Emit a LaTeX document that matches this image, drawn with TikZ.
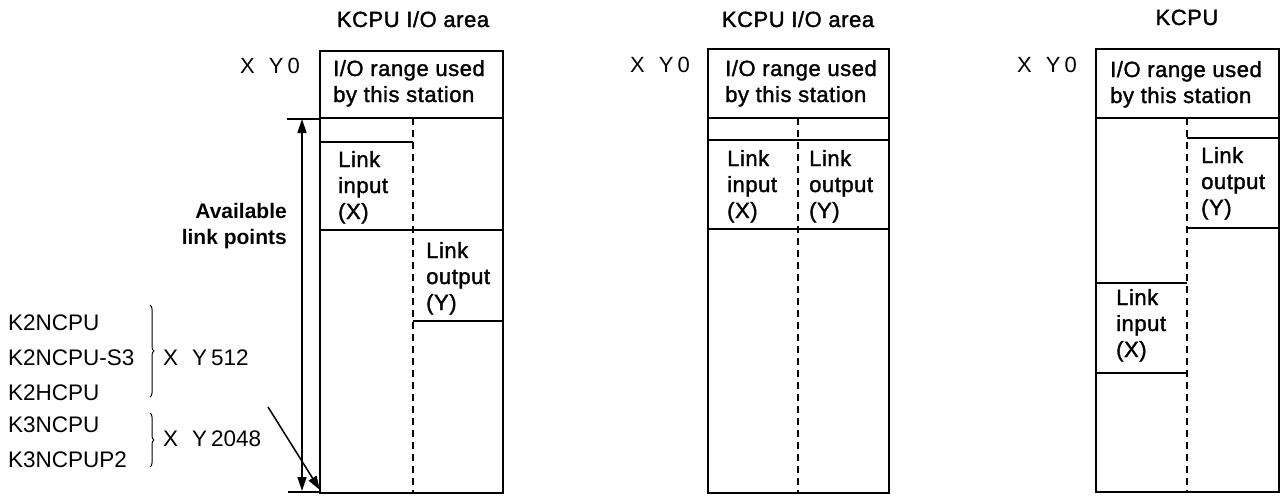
\documentclass[tikz,border=0pt]{standalone}
\usepackage{fontspec}
\setmainfont{Liberation Sans}
\newfontfamily\labelfont[FakeBold=1.5,LetterSpace=2.5]{Liberation Sans}
\usetikzlibrary{arrows.meta,decorations.pathreplacing}

\begin{document}
\begin{tikzpicture}[x=1pt,y=-1pt,
  >={Triangle[length=14pt,width=9pt]},
  frame/.style={line width=2.2pt},
  divider/.style={line width=1.8pt},
  split/.style={line width=1.3pt, dash pattern=on 7pt off 5pt},
  % multi-line labels: the anchor sits on the baseline of the last line
  lbl/.style={inner sep=0pt, anchor=base west, align=left, font=\labelfont\fontsize{22}{26}\selectfont},
  heading/.style={inner sep=0pt, anchor=base, font=\labelfont\fontsize{22}{26}\selectfont},
  addr/.style={inner sep=0pt, anchor=base east, font=\fontsize{22}{26}\selectfont},
  cpu/.style={inner sep=0pt, anchor=base west, font=\fontsize{22.5}{26}\selectfont},
  bracket/.style={line width=1pt, decorate, decoration={brace, amplitude=4pt}},
]
\useasboundingbox (0,0) rectangle (1281,496);

% ---------- left column: I/O area with link input before link output ----------
\draw[frame] (320,51) rectangle (503,493);
\draw[divider] (320,118) -- (503,118);
\draw[split] (413,118) -- (413,493);
\draw[divider] (320,142) -- (413,142);
\draw[divider] (320,230) -- (503,230);
\draw[divider] (413,321) -- (503,321);

\node[heading] (t1) at (413,27) {KCPU I/O area};
\node[addr] (a1) at (300,73) {X\hspace{14pt}Y\hspace{4pt}0};
\node[lbl] (h1) at (333,102) {I/O range used\\by this station};
\node[lbl] (in1) at (338,219) {Link\\input\\(X)};
\node[lbl] (out1) at (426,310) {Link\\output\\(Y)};

% span of available link points
\coordinate (spanTop) at (302,119);
\coordinate (spanBot) at (302,491);
\draw[line width=1.8pt] (287,119) -- (320,119);
\draw[line width=1.8pt] (288,492) -- (320,492);
\draw[line width=1.5pt, <->] (spanTop) -- (spanBot);
\node[inner sep=0pt, anchor=base east, align=right, font=\fontsize{21}{26}\selectfont\bfseries]
  (avail) at (287,244) {Available\\link points};

% CPU types and their last address
\node[cpu] (k2n)   at (8,330) {K2NCPU};
\node[cpu] (k2ns3) at (8,365) {K2NCPU-S3};
\node[cpu] (k2h)   at (8,400) {K2HCPU};
\node[cpu] (k3n)   at (8,432) {K3NCPU};
\node[cpu] (k3np2) at (8,467) {K3NCPUP2};
\draw[bracket] (150,305) -- (150,397);
\draw[bracket] (150,413) -- (150,467);
\node[cpu] (end512)  at (163,365) {X\hspace{14pt}Y\hspace{4pt}512};
\node[cpu] (end2048) at (163,446) {X\hspace{14pt}Y\hspace{4pt}2048};
\coordinate (ptrStart) at (268,407);
\coordinate (ptrEnd) at (320,490);
\draw[line width=1.5pt, ->] (ptrStart) -- (ptrEnd);

% ---------- middle column: link input beside link output ----------
\draw[frame] (708,49) rectangle (889,493);
\draw[divider] (708,118) -- (889,118);
\draw[divider] (708,140) -- (889,140);
\draw[divider] (708,229) -- (889,229);
\draw[split] (798,118) -- (798,493);

\node[heading] (t2) at (798,27) {KCPU I/O area};
\node[addr] (a2) at (690,72) {X\hspace{14pt}Y\hspace{4pt}0};
\node[lbl] (h2) at (725,102) {I/O range used\\by this station};
\node[lbl] (in2) at (727,218) {Link\\input\\(X)};
\node[lbl] (out2) at (809,218) {Link\\output\\(Y)};

% ---------- right column: link output before link input ----------
\draw[frame] (1096,49) rectangle (1279,492);
\draw[divider] (1096,118) -- (1279,118);
\draw[split] (1187,118) -- (1187,492);
\draw[divider] (1187,138) -- (1279,138);
\draw[divider] (1187,228) -- (1279,228);
\draw[divider] (1096,283) -- (1187,283);
\draw[divider] (1096,373) -- (1187,373);

\node[heading] (t3) at (1187,25) {KCPU};
\node[addr] (a3) at (1077,72) {X\hspace{14pt}Y\hspace{4pt}0};
\node[lbl] (h3) at (1110,103) {I/O range used\\by this station};
\node[lbl] (out3) at (1201,215) {Link\\output\\(Y)};
\node[lbl] (in3) at (1116,357) {Link\\input\\(X)};
\end{tikzpicture}
\end{document}
